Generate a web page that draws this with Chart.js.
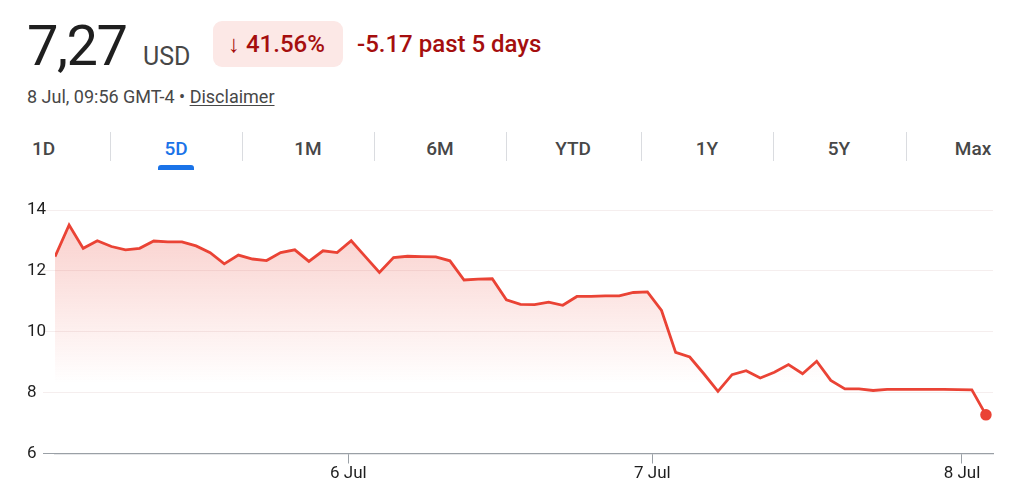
<!DOCTYPE html>
<html>
<head>
<meta charset="utf-8">
<script src="https://cdn.jsdelivr.net/npm/chart.js@4.4.1/dist/chart.umd.min.js"></script>
<style>
  html, body { margin: 0; padding: 0; background: #fff; }
  body { width: 1024px; height: 501px; position: relative; overflow: hidden; font-family: Roboto, "Noto Sans", sans-serif; }
  .abs { position: absolute; white-space: nowrap; }
  #price { left: 27px; top: 18px; font-size: 56px; line-height: 56px; color: #1f1f1f; letter-spacing: -1.5px; }
  #cur { left: 143px; top: 44px; font-size: 25px; line-height: 25px; color: #474747; }
  #badge { left: 213px; top: 21px; width: 130px; height: 46px; border-radius: 9px; background: #fce8e6; }
  #badgeText { left: 228px; top: 31.5px; font-size: 24px; line-height: 24px; color: #a50e0e; font-weight: 500; }
  #chg { left: 357px; top: 31.5px; font-size: 24px; line-height: 24px; color: #a50e0e; font-weight: 500; }
  #sub { left: 27px; top: 88px; font-size: 18px; line-height: 18px; color: #474747; }
  #sub u { text-decoration: underline; text-underline-offset: 2px; }
  .tab { position: absolute; top: 139px; font-size: 19px; line-height: 19px; font-weight: 500; color: #474747; transform: translateX(-50%); white-space: nowrap; }
  .tab.active { color: #1a73e8; }
  .sep { position: absolute; top: 132px; width: 1px; height: 29px; background: #dadce0; }
  #underline { position: absolute; left: 158px; top: 165px; width: 36px; height: 5px; border-radius: 3px 3px 0 0; background: #1a73e8; }
  #chartBox { position: absolute; left: 0; top: 190px; width: 1024px; height: 311px; }
</style>
</head>
<body>
<div id="price" class="abs">7,27</div>
<div id="cur" class="abs">USD</div>
<div id="badge" class="abs"></div>
<div id="badgeText" class="abs">↓ 41.56%</div>
<div id="chg" class="abs">-5.17 past 5 days</div>
<div id="sub" class="abs">8 Jul, 09:56 GMT-4 • <u>Disclaimer</u></div>
<div id="tabs"></div>
<div id="underline"></div>
<div id="chartBox"><canvas id="c"></canvas></div>
<script>
// ---- data ----
const tabLabels = ['1D', '5D', '1M', '6M', 'YTD', '1Y', '5Y', 'Max'];
const activeTab = '5D';
const prices = [12.47, 13.51, 12.74, 12.99, 12.80, 12.69, 12.74, 12.98, 12.95, 12.95,
  12.82, 12.60, 12.23, 12.52, 12.39, 12.34, 12.60, 12.69, 12.31, 12.66,
  12.60, 12.99, 12.47, 11.95, 12.44, 12.48, 12.47, 12.46, 12.33, 11.70,
  11.73, 11.74, 11.05, 10.90, 10.89, 10.97, 10.87, 11.16, 11.16, 11.18,
  11.18, 11.29, 11.31, 10.70, 9.32, 9.17, 8.62, 8.04, 8.59, 8.72,
  8.48, 8.67, 8.92, 8.62, 9.03, 8.40, 8.12, 8.12, 8.07, 8.11,
  8.11, 8.11, 8.11, 8.11, 8.10, 8.09, 7.27];
const dayTickPos = [20.8, 42.35, 64.3];
const dayTickLabels = ['6 Jul', '7 Jul', '8 Jul'];
const yTicks = [6, 8, 10, 12, 14];

// ---- tabs (layout) ----
const tabCenters = [43.5, 176, 308, 440, 573, 707, 839, 973];
const sepX = [110, 242, 374, 506, 641, 773, 906];
const tabsEl = document.getElementById('tabs');
tabLabels.forEach((t, i) => {
  const d = document.createElement('div');
  d.className = 'tab' + (t === activeTab ? ' active' : '');
  d.style.left = tabCenters[i] + 'px';
  d.textContent = t;
  tabsEl.appendChild(d);
});
sepX.forEach(x => {
  const s = document.createElement('div');
  s.className = 'sep';
  s.style.left = x + 'px';
  tabsEl.appendChild(s);
});

// ---- chart ----
const RED = '#ea4335';
Chart.defaults.font.family = 'Roboto, "Noto Sans", sans-serif';
const lastIdx = prices.length - 1;

new Chart(document.getElementById('c'), {
  type: 'line',
  data: {
    datasets: [{
      data: prices.map((v, i) => ({ x: i, y: v })),
      borderColor: RED,
      borderWidth: 2.8,
      tension: 0,
      fill: 'start',
      backgroundColor: (ctx) => {
        const chart = ctx.chart;
        const area = chart.chartArea;
        if (!area) return 'rgba(0,0,0,0)';
        const yEnd = chart.scales.y.getPixelForValue(8.3);
        const g = chart.ctx.createLinearGradient(0, area.top, 0, yEnd);
        g.addColorStop(0, 'rgba(234,67,53,0.27)');
        g.addColorStop(1, 'rgba(234,67,53,0)');
        return g;
      },
      pointRadius: (ctx) => ctx.dataIndex === lastIdx ? 5 : 0,
      pointBackgroundColor: RED,
      pointBorderColor: RED,
      pointBorderWidth: 1.5,
      pointHoverRadius: 0
    }]
  },
  options: {
    responsive: true,
    maintainAspectRatio: false,
    animation: false,
    layout: { padding: { left: 27, right: 31, top: 20, bottom: 0 } },
    plugins: { legend: { display: false }, tooltip: { enabled: false } },
    scales: {
      x: {
        type: 'linear',
        min: 0,
        max: 66.5,
        afterBuildTicks: (s) => { s.ticks = dayTickPos.map(v => ({ value: v })); },
        afterFit: (s) => { s.height = 47.5; },
        ticks: {
          autoSkip: false,
          maxRotation: 0,
          padding: 0,
          color: '#1f1f1f',
          font: { size: 17 },
          callback: (v, i) => dayTickLabels[i]
        },
        grid: { drawOnChartArea: false, drawTicks: true, tickLength: 10, color: '#9aa0a6' },
        border: { display: true, color: '#9aa0a6', width: 1.2 }
      },
      y: {
        min: 6,
        max: 14,
        afterBuildTicks: (s) => { s.ticks = yTicks.map(v => ({ value: v })); },
        afterFit: (s) => { s.width = 28; },
        ticks: {
          crossAlign: 'far',
          color: '#1f1f1f',
          font: { size: 17 },
          padding: 0
        },
        grid: {
          color: (ctx) => ctx.tick && ctx.tick.value === 6 ? '#9aa0a6' : '#f5eeee',
          lineWidth: 1,
          tickLength: 12
        },
        border: { display: false }
      }
    }
  }
});
</script>
</body>
</html>
